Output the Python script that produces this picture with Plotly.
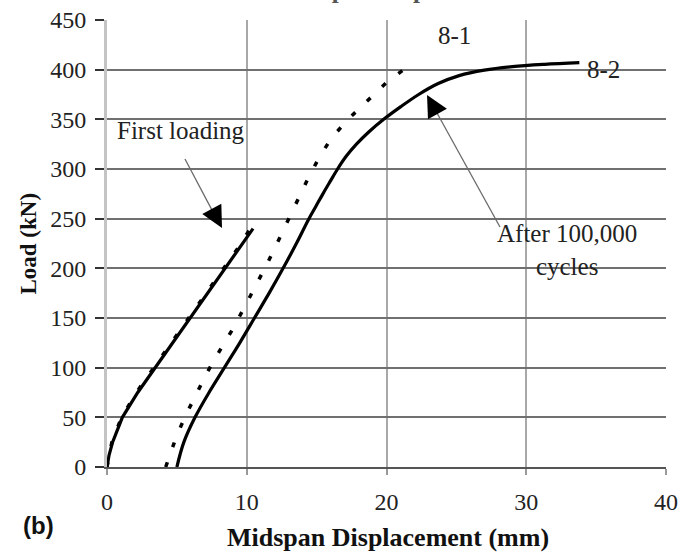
import plotly.graph_objects as go

# Load-displacement data (midspan displacement in mm, load in kN)
first_solid_x = [0.0, 0.15, 0.4, 0.75, 1.1, 2.2, 3.45, 4.7, 5.95, 7.2, 8.45, 9.45, 10.45]
first_solid_y = [0, 12, 25, 38, 50, 75, 100, 125, 150, 175, 200, 220, 240]

first_dot_x = [0.0, 0.15, 0.35, 0.7, 1.05, 2.1, 3.35, 4.6, 5.85, 7.1, 8.35, 9.35, 10.3]
first_dot_y = [0, 12, 25, 38, 50, 75, 100, 125, 150, 175, 200, 220, 241]

s81_x = [4.2, 4.4, 5.0, 5.7, 6.5, 7.2, 8.1, 9.0, 9.8, 10.6, 11.4, 12.2, 12.9, 13.6, 14.4, 15.2,
         16.1, 17.4, 18.6, 20.0, 21.4]
s81_y = [0, 8, 32, 54, 76, 96, 118, 139, 160, 181, 203, 226, 247, 269, 291, 312,
         332, 352, 368, 387, 402]

s82_x = [5.0, 5.5, 6.3, 7.3, 8.4, 9.5, 10.55, 11.6, 12.6, 13.55, 14.45, 14.95, 15.45, 15.97,
         16.5, 17.1, 17.85, 18.75, 19.8, 21.0, 22.3, 23.7, 25.2, 27.0, 29.0, 31.3, 33.8]
s82_y = [0, 25, 50, 75, 100, 125, 150, 175, 200, 225, 250, 262.5, 275, 287.5,
         300, 312.5, 325, 337.5, 350, 362.5, 375, 386, 394, 399.5, 403, 405.3, 407]

x_ticks = [0, 10, 20, 30, 40]
x_grid = [10, 20, 30]
y_ticks = [0, 50, 100, 150, 200, 250, 300, 350, 400, 450]
y_grid = [50, 100, 150, 200, 250, 300, 350, 400]

SERIF = "Liberation Serif, Times New Roman, serif"
DOT = "5px,16px"

fig = go.Figure()
fig.add_trace(go.Scatter(x=first_dot_x, y=first_dot_y, mode="lines",
                         line=dict(color="black", width=3.5, dash=DOT), name="8-1 first"))
fig.add_trace(go.Scatter(x=first_solid_x, y=first_solid_y, mode="lines",
                         line=dict(color="black", width=3.2), name="8-2 first"))
fig.add_trace(go.Scatter(x=s81_x, y=s81_y, mode="lines",
                         line=dict(color="black", width=3.5, dash=DOT), name="8-1"))
fig.add_trace(go.Scatter(x=s82_x, y=s82_y, mode="lines", line_shape="spline",
                         line=dict(color="black", width=3.2), name="8-2"))

# Pointer lines (thin gray) from labels to curves
fig.add_shape(type="line", x0=5.58, y0=310, x1=8.1, y1=243,
              line=dict(color="#6a6a6a", width=1.3), layer="above")
fig.add_shape(type="line", x0=28.12, y0=241.6, x1=23.0, y1=372,
              line=dict(color="#6a6a6a", width=1.3), layer="above")

annotations = [
    # arrowheads
    dict(x=8.23, y=240.6, xref="x", yref="y", ax=-7.5, ay=-14, text="", showarrow=True,
         arrowhead=2, arrowsize=3.6, arrowwidth=1.2, arrowcolor="black"),
    dict(x=22.9, y=374.5, xref="x", yref="y", ax=7.7, ay=14, text="", showarrow=True,
         arrowhead=2, arrowsize=3.6, arrowwidth=1.2, arrowcolor="black"),
    # labels
    dict(x=5.33, y=338.7, xref="x", yref="y", text="First loading", showarrow=False,
         font=dict(family=SERIF, size=25, color="#222")),
    dict(x=32.9, y=218.5, xref="x", yref="y", text="After 100,000<br>cycles", showarrow=False,
         font=dict(family=SERIF, size=25, color="#222")),
    dict(x=24.9, y=434.4, xref="x", yref="y", text="8-1", showarrow=False,
         font=dict(family=SERIF, size=25, color="#222")),
    dict(x=34.2, y=400, xref="x", yref="y", text="8-2", showarrow=False, xanchor="left",
         font=dict(family=SERIF, size=25, color="#222")),
    # axis titles and panel letter
    dict(x=0.503, y=-0.158, xref="paper", yref="paper", text="<b>Midspan Displacement (mm)</b>",
         showarrow=False, xanchor="center", yanchor="middle",
         font=dict(family=SERIF, size=26, color="#111")),
    dict(x=-0.1413, y=0.5, xref="paper", yref="paper", text="<b>Load (kN)</b>", textangle=-90,
         showarrow=False, xanchor="center", yanchor="middle",
         font=dict(family=SERIF, size=23, color="#111")),
    dict(x=-0.122, y=-0.1298, xref="paper", yref="paper", text="<b>(b)</b>", showarrow=False,
         xanchor="center", yanchor="middle",
         font=dict(family="Liberation Sans, Arial, sans-serif", size=24, color="#111")),
    dict(x=0.438, y=1.034, xref="paper", yref="paper", yanchor="bottom", xanchor="center",
         text="<b>Load vs. Midspan Displacement</b>", showarrow=False,
         font=dict(family=SERIF, size=25, color="#555")),
]

fig.update_layout(
    width=682, height=556,
    margin=dict(l=107, r=16, t=20, b=89),
    paper_bgcolor="white", plot_bgcolor="white",
    showlegend=False,
    annotations=annotations,
    font=dict(family=SERIF, size=24, color="#222"),
)
fig.update_xaxes(range=[0, 40], tickvals=x_ticks, showgrid=False, automargin=False,
                 minor=dict(tickvals=x_grid, showgrid=True, gridcolor="#a8a8a8", gridwidth=2.2,
                            ticks=""),
                 zeroline=False, showline=True, linecolor="#555", linewidth=1.5,
                 ticks="outside", ticklen=6, tickcolor="#999", tickwidth=1.5,
                 ticklabelstandoff=6, ticklabeloverflow="allow",
                 tickfont=dict(family=SERIF, size=24, color="#222"))
fig.update_yaxes(range=[0, 450], tickvals=y_ticks, showgrid=False, automargin=False,
                 minor=dict(tickvals=y_grid, showgrid=True, gridcolor="#707070", gridwidth=1.5,
                            ticks=""),
                 zeroline=False, showline=True, linecolor="#c4c4c4", linewidth=3,
                 ticks="outside", ticklen=9, tickcolor="#333", tickwidth=1.5,
                 ticklabelstandoff=4, ticklabeloverflow="allow",
                 tickfont=dict(family=SERIF, size=24, color="#222"))

fig.write_html("out.html")
